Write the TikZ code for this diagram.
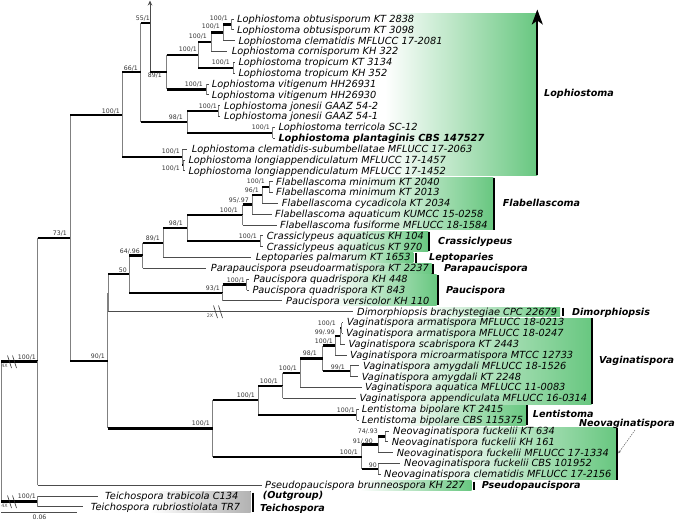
\documentclass[tikz,border=0pt]{standalone}
\usepackage{fontspec}
\setmainfont{DejaVu Sans}
\usetikzlibrary{arrows.meta}
\definecolor{cladegreen}{RGB}{104,199,128}
\definecolor{cladegray}{RGB}{178,178,178}
\newcommand{\phybr}[3]{\draw[vl] (#2) -- (#2|-#3); \draw[#1] (#2|-#3) -- (#3);}
\newcommand{\sv}[4]{\node[sup] (#1) at (#2,#3+2.2) {#4};}
\newcommand{\cl}[4]{\node[clade] (#1) at (#2,#3+3.4) {#4};}
\begin{document}
\begin{tikzpicture}[x=1pt,y=-1pt,
 vl/.style={draw=black!50,line width=0.8pt},
 tb/.style={draw=black,line width=2.3pt},
 tl/.style={draw=black!70,line width=0.8pt},
 taxon/.style={anchor=base west,inner sep=0pt,font=\fontsize{9.8}{10}\selectfont\itshape},
 btaxon/.style={anchor=base west,inner sep=0pt,font=\fontsize{9.8}{10}\selectfont\bfseries\itshape},
 sup/.style={anchor=base east,inner sep=0pt,font=\fontsize{6.2}{7}\selectfont,text=black!80},
 clade/.style={anchor=base west,inner sep=0pt,font=\fontsize{9.6}{10}\selectfont\bfseries\itshape},
 cbox/.style={left color=white,right color=cladegreen,draw=none},
 gbox/.style={left color=white,right color=cladegray,draw=none},
 bar/.style={line width=2pt,draw=black},
 slash/.style={line width=0.6pt,draw=black!80},
 mult/.style={inner sep=0pt,font=\fontsize{4.8}{5}\selectfont,text=black!70},
]
\useasboundingbox (0,0) rectangle (676,520);
% clade boxes
\fill[cbox] (385,13.3) rectangle (537.3,175);
\fill[cbox] (360,177.5) rectangle (493.3,229.5);
\fill[cbox] (330,231.5) rectangle (428.3,251);
\fill[cbox] (340,252.5) rectangle (413.3,262.7);
\fill[cbox] (340,263.5) rectangle (431.7,273.5);
\fill[cbox] (330,274.8) rectangle (436.7,305.2);
\fill[cbox] (420,307.2) rectangle (560,316);
\fill[cbox] (380,318) rectangle (591.7,404);
\fill[cbox] (400,405.3) rectangle (526,425);
\fill[cbox] (430,427.5) rectangle (616,479.5);
\fill[cbox] (360,480.5) rectangle (471.7,490);
\fill[gbox] (150,491) rectangle (250.7,512);
% bars
\draw[bar,-{Stealth[length=15pt,width=11pt,inset=4pt]}] (537.3,175) -- (537.3,9.5);
\draw[bar] (494.3,177.5) -- (494.3,229.5);
\draw[bar] (429.3,231.5) -- (429.3,251);
\draw[bar] (416,253) -- (416,262.5);
\draw[bar] (433.3,264) -- (433.3,273.5);
\draw[bar] (437.7,275) -- (437.7,305);
\draw[bar] (563.3,307.5) -- (563.3,316);
\draw[bar] (592.3,318) -- (592.3,404);
\draw[bar] (526.5,405.3) -- (526.5,425);
\draw[bar] (616.7,427.5) -- (616.7,479.5);
\draw[bar] (474,481.5) -- (474,490);
\draw[bar] (252.7,492.7) -- (252.7,511.7);
% internal nodes
\coordinate (L12) at (231.7,24.42);
\coordinate (L123) at (223.3,32.55);
\coordinate (L1234) at (211,42.04);
\coordinate (Ltrop) at (233.3,67.78);
\coordinate (L1to6) at (198.3,54.91);
\coordinate (Lvit) at (206.7,89.46);
\coordinate (L1to8) at (166.7,72.18);
\coordinate (L55) at (150,22.7);
\coordinate (Latop) at (150,0.5);
\coordinate (Ljon) at (218.3,111.14);
\coordinate (Lterr) at (272.7,132.82);
\coordinate (L98) at (187.3,121.98);
\coordinate (L66) at (140.7,72.34);
\coordinate (Llong) at (183,165.34);
\coordinate (Lcs) at (182,157.21);
\coordinate (L100) at (122,114.78);
\coordinate (F12) at (269.3,187.02);
\coordinate (F123) at (262.3,195.15);
\coordinate (F1234) at (252.3,204.64);
\coordinate (F12345) at (242.7,214.8);
\coordinate (C12) at (260,241.22);
\coordinate (FC98) at (187.3,228.01);
\coordinate (N89) at (163.3,242.75);
\coordinate (N64) at (142.7,255.53);
\coordinate (P12) at (246.7,284.58);
\coordinate (P93) at (222.7,292.71);
\coordinate (N50) at (129,274.12);
\coordinate (N50D) at (108.4,292.9);
\coordinate (V12) at (341.5,327.94);
\coordinate (V123) at (340,336.07);
\coordinate (V1234) at (335,345.56);
\coordinate (Vamy) at (350,371.3);
\coordinate (V98) at (322.5,358.43);
\coordinate (V100a) at (300,372.99);
\coordinate (V100b) at (282.7,385.7);
\coordinate (Lent) at (356.7,414.66);
\coordinate (VL) at (258.3,400.18);
\coordinate (N74) at (385,436.34);
\coordinate (N91) at (378.3,444.47);
\coordinate (N90b) at (378.3,468.86);
\coordinate (N100) at (361.7,456.67);
\coordinate (VLN) at (212.7,428.42);
\coordinate (N90) at (107.7,360.66);
\coordinate (N73) at (70,237.72);
\coordinate (N100r) at (37.7,361.42);
\coordinate (Teich) at (37.7,501.38);
\coordinate (Root) at (1,431.4);
% internal branches
\phybr{tb}{L123}{L12}
\phybr{tb}{L1234}{L123}
\phybr{tb}{L1to6}{L1234}
\phybr{tb}{L1to6}{Ltrop}
\phybr{tb}{L1to8}{L1to6}
\phybr{tb}{L1to8}{Lvit}
\draw[tl,-{Stealth[length=5pt,width=4.5pt]}] (L55|-L1to8) -- (Latop);
\draw[tb] (L55|-L1to8) -- (L1to8);
\phybr{tb}{L66}{L55}
\phybr{tb}{L98}{Ljon}
\phybr{tb}{L98}{Lterr}
\phybr{tb}{L66}{L98}
\phybr{tb}{Lcs}{Llong}
\phybr{tb}{L100}{L66}
\phybr{tb}{L100}{Lcs}
\phybr{tb}{N73}{L100}
\phybr{tb}{F123}{F12}
\phybr{tb}{F1234}{F123}
\phybr{tb}{F12345}{F1234}
\phybr{tb}{FC98}{F12345}
\phybr{tb}{FC98}{C12}
\phybr{tb}{N89}{FC98}
\phybr{tb}{N64}{N89}
\phybr{tb}{N50}{N64}
\phybr{tb}{P93}{P12}
\phybr{tb}{N50}{P93}
\phybr{tb}{N50D}{N50}
\phybr{vl}{N90}{N50D}
\phybr{tb}{V123}{V12}
\phybr{tb}{V1234}{V123}
\phybr{tb}{V98}{V1234}
\phybr{tb}{V98}{Vamy}
\phybr{tb}{V100a}{V98}
\phybr{tb}{V100b}{V100a}
\phybr{tb}{VL}{V100b}
\phybr{tb}{VL}{Lent}
\phybr{tb}{N91}{N74}
\phybr{tb}{N100}{N91}
\phybr{tb}{N100}{N90b}
\phybr{tb}{VLN}{VL}
\phybr{tb}{VLN}{N100}
\phybr{tb}{N90}{VLN}
\phybr{tb}{N73}{N90}
\phybr{tb}{N100r}{N73}
\phybr{tb}{Root}{N100r}
\phybr{tb}{Root}{Teich}
% tips
\foreach \i/\p/\ex/\tx/\txt in {
1/L12/233.5/237/Lophiostoma obtusisporum KT 2838,
2/L12/233.5/237/Lophiostoma obtusisporum KT 3098,
3/L123/235/238.3/Lophiostoma clematidis MFLUCC 17-2081,
4/L1234/226.7/231.7/Lophiostoma cornisporum KH 322,
5/Ltrop/235/238.3/Lophiostoma tropicum KT 3134,
6/Ltrop/235/238.3/Lophiostoma tropicum KH 352,
7/Lvit/208.5/211.7/Lophiostoma vitigenum HH26931,
8/Lvit/208.5/211.7/Lophiostoma vitigenum HH26930,
9/Ljon/220/224/Lophiostoma jonesii GAAZ 54-2,
10/Ljon/220/224/Lophiostoma jonesii GAAZ 54-1,
11/Lterr/274.5/278.3/Lophiostoma terricola SC-12,
13/Lcs/187.3/191.7/Lophiostoma clematidis-subumbellatae MFLUCC 17-2063,
14/Llong/184.5/188.3/Lophiostoma longiappendiculatum MFLUCC 17-1457,
15/Llong/184.5/188.3/Lophiostoma longiappendiculatum MFLUCC 17-1452,
16/F12/272.5/276/Flabellascoma minimum KT 2040,
17/F12/272.5/276/Flabellascoma minimum KT 2013,
18/F123/278.3/281.7/Flabellascoma cycadicola KT 2034,
19/F1234/271.7/275/Flabellascoma aquaticum KUMCC 15-0258,
20/F12345/276.7/280/Flabellascoma fusiforme MFLUCC 18-1584,
21/C12/262.5/266.7/Crassiclypeus aquaticus KH 104,
22/C12/262.5/266.7/Crassiclypeus aquaticus KT 970,
23/N89/251/255.7/Leptoparies palmarum KT 1653,
24/N64/206/210.7/Parapaucispora pseudoarmatispora KT 2237,
25/P12/249/253.3/Paucispora quadrispora KH 448,
26/P12/249/252.3/Paucispora quadrispora KT 843,
27/P93/282/286/Paucispora versicolor KH 110,
28/N50D/353/357/Dimorphiopsis brachystegiae CPC 22679,
29/V12/343/346.7/Vaginatispora armatispora MFLUCC 18-0213,
30/V12/343/346/Vaginatispora armatispora MFLUCC 18-0247,
31/V123/345/348.3/Vaginatispora scabrispora KT 2443,
32/V1234/346.7/350/Vaginatispora microarmatispora MTCC 12733,
33/Vamy/359/363/Vaginatispora amygdali MFLUCC 18-1526,
34/Vamy/358/361.7/Vaginatispora amygdali KT 2248,
35/V100a/362/365/Vaginatispora aquatica MFLUCC 11-0083,
36/V100b/356/359.3/Vaginatispora appendiculata MFLUCC 16-0314,
37/Lent/358.5/361.7/Lentistoma bipolare KT 2415,
38/Lent/358.5/361.7/Lentistoma bipolare CBS 115375,
39/N74/389/393/Neovaginatispora fuckelii KT 634,
40/N74/388/391.7/Neovaginatispora fuckelii KH 161,
41/N91/392.7/396.7/Neovaginatispora fuckelii MFLUCC 17-1334,
42/N90b/400/404/Neovaginatispora fuckelii CBS 101952,
43/N90b/380.5/384/Neovaginatispora clematidis MFLUCC 17-2156,
44/N100r/261.7/265/Pseudopaucispora brunneospora KH 227,
45/Teich/98.3/105/Teichospora trabicola C134,
46/Teich/83.3/90.7/Teichospora rubriostiolata TR7}{
 \pgfmathsetmacro\ry{19+(\i-1)*10.84}
 \coordinate (e\i) at (\ex,\ry);
 \phybr{tl}{\p}{e\i}
 \node[taxon] (t\i) at (\tx,\ry+3.4) {\txt};
}
\coordinate (e12) at (274.5,138.24);
\phybr{tl}{Lterr}{e12}
\node[btaxon] (t12) at (278.3,141.64) {Lophiostoma plantaginis CBS 147527};
% support values
\sv{sL12}{228}{18}{100/1}
\sv{sL123}{220}{26}{100/1}
\sv{sL1234}{207}{36}{100/1}
\sv{sL1to6}{197}{49}{100/1}
\sv{sLtrop}{230}{62}{100/1}
\sv{sLvit}{203}{84}{100/1}
\sv{sL1to8}{162}{75}{89/1}
\sv{sL55}{150}{18}{55/1}
\sv{sLjon}{217}{106}{100/1}
\sv{sLterr}{270}{127.7}{100/1}
\sv{sL98}{183}{117}{98/1}
\sv{sL66}{138}{68}{66/1}
\sv{sLcs}{180}{151.7}{100/1}
\sv{sLlong}{180}{168}{100/1}
\sv{sL100}{120}{111}{100/1}
\sv{sF12}{265}{181.7}{100/1}
\sv{sF123}{259}{190}{96/1}
\sv{sF1234}{249}{200}{95/.97}
\sv{sF12345}{238}{210}{100/1}
\sv{sC12}{257}{236.7}{100/1}
\sv{sFC98}{183}{223.3}{98/1}
\sv{sN89}{160}{238.3}{89/1}
\sv{sN64}{140}{251}{64/.96}
\sv{sN50}{127}{270}{50}
\sv{sP12}{245}{280}{100/1}
\sv{sP93}{220}{288}{93/1}
\sv{sN90}{105}{356.7}{90/1}
\sv{sN73}{67}{233}{73/1}
\sv{sN100r}{36}{357}{100/1}
\sv{sV12}{336}{323.3}{100/1}
\sv{sV123}{335}{332.5}{99/.99}
\sv{sV1234}{333}{341.7}{100/1}
\sv{sV98}{317}{353}{98/1}
\sv{sVamy}{345}{367.7}{99/1}
\sv{sV100a}{297}{368.3}{100/1}
\sv{sV100b}{278}{381.7}{100/1}
\sv{sLent}{355}{410}{100/1}
\sv{sVL}{255}{395}{100/1}
\sv{sN74}{378}{431.7}{74/.93}
\sv{sN91}{373}{441}{91/.90}
\sv{sN90b}{377}{465}{90}
\sv{sN100}{358}{452.7}{100/1}
\sv{sVLN}{210}{423}{100/1}
\sv{sTeich}{36}{496.7}{100/1}
% break marks
\node[mult] (m1) at (4.5,366) {4X};
\draw[slash] (7.5,355.5) -- (11.5,368);
\draw[slash] (12.5,355.5) -- (16.5,368);
\node[mult] (m2) at (4.5,506) {4X};
\draw[slash] (7.5,495.5) -- (11.5,508);
\draw[slash] (12.5,495.5) -- (16.5,508);
\node[mult] (m3) at (210,315.5) {2X};
\draw[slash] (213.5,305.5) -- (217.5,318);
\draw[slash] (218.5,305.5) -- (222.5,318);
% scale bar
\coordinate (sb1) at (1,512.7);
\coordinate (sb2) at (77,512.7);
\draw[tl] (sb1) -- (sb2);
\node[sup,anchor=base] (sbl) at (39.5,519.5) {0.06};
% clade labels
\cl{cLoph}{544}{93.3}{Lophiostoma}
\cl{cFlab}{502.7}{203.3}{Flabellascoma}
\cl{cCras}{438}{240.7}{Crassiclypeus}
\cl{cLept}{429}{256.7}{Leptoparies}
\cl{cPara}{444}{268.3}{Parapaucispora}
\cl{cPauc}{446}{290}{Paucispora}
\cl{cDimo}{572}{311.7}{Dimorphiopsis}
\cl{cVagi}{599}{360}{Vaginatispora}
\cl{cLent}{532.7}{414.3}{Lentistoma}
\node[clade,anchor=base east] (cNeov) at (675,426.7) {Neovaginatispora};
\cl{cPseu}{481.7}{485}{Pseudopaucispora}
\cl{cOut}{262.7}{495}{(Outgroup)}
\cl{cTeic}{260}{508.3}{Teichospora}
\coordinate (na1) at (635,430);
\coordinate (na2) at (618.3,453.3);
\draw[draw=black!60,line width=0.5pt,dash pattern=on 1.5pt off 1pt,-{Stealth[length=3pt,width=2.5pt]}] (na1) -- (na2);
\end{tikzpicture}
\end{document}
